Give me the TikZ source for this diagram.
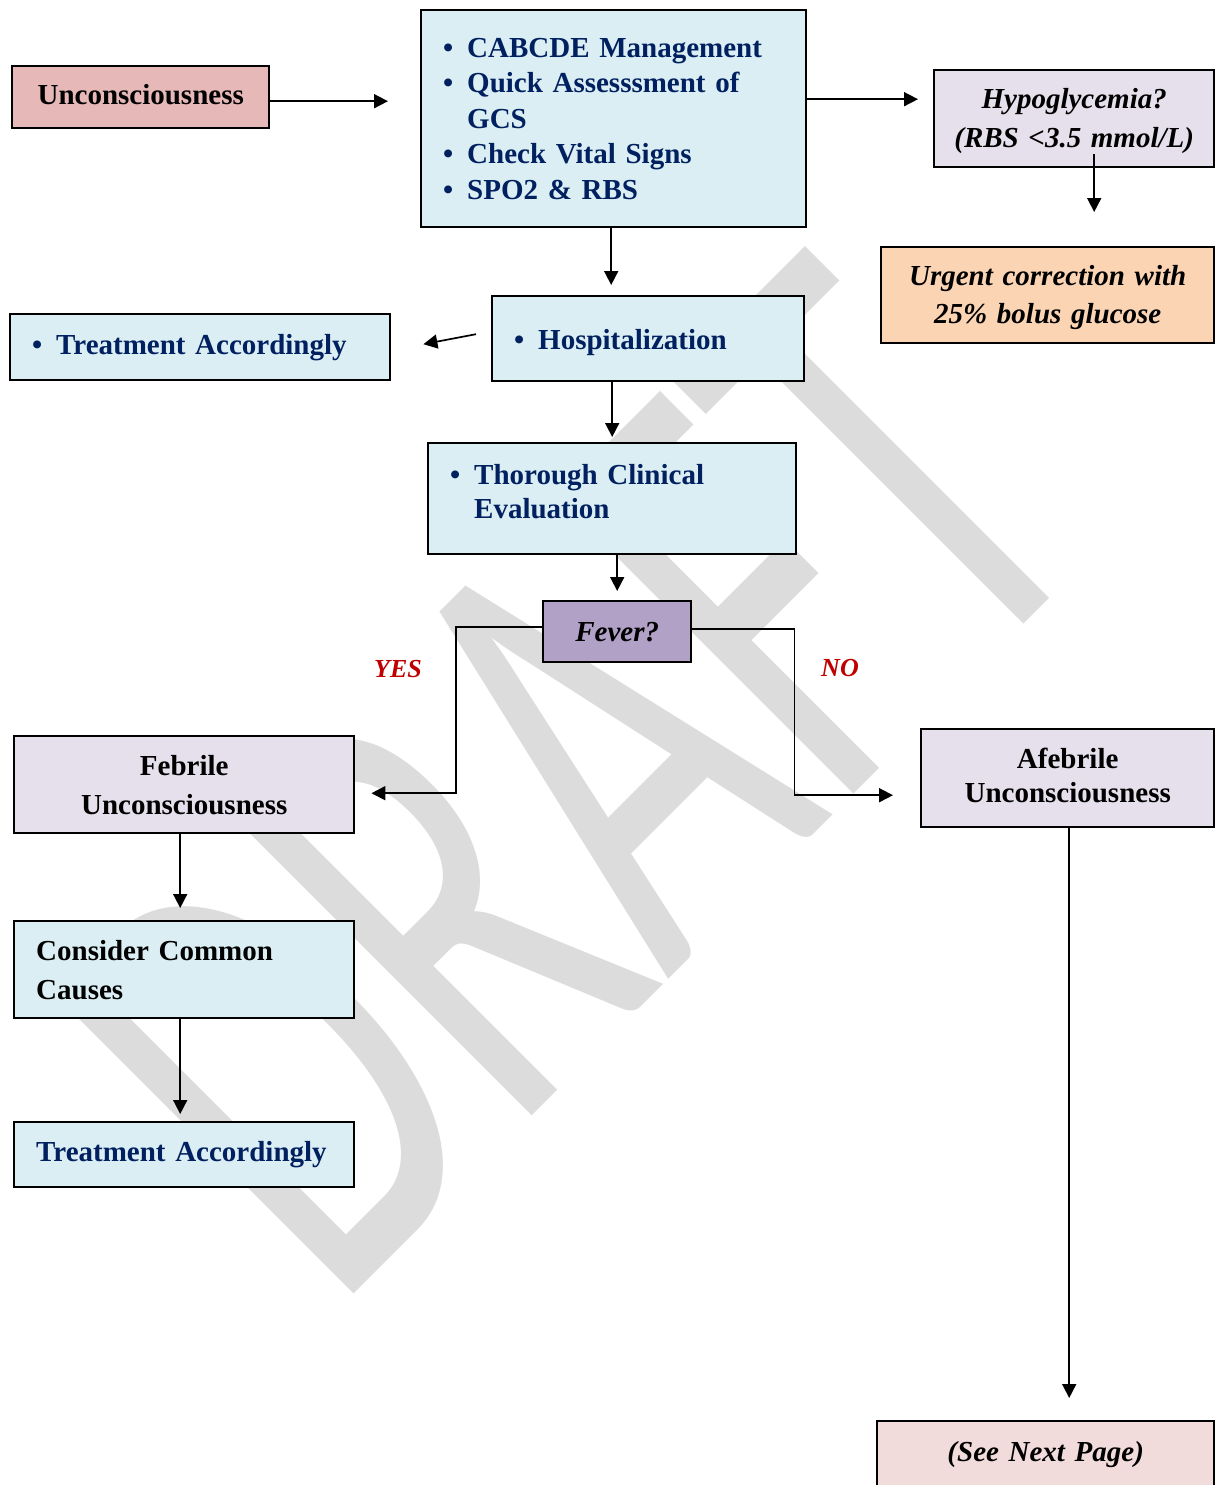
\documentclass[tikz,border=0pt]{standalone}
\usepackage{fontspec}
\setmainfont{Liberation Serif}
\newfontfamily\wmfont{Carlito}
\usetikzlibrary{arrows.meta,calc}

\definecolor{navy}{RGB}{0,32,96}
\definecolor{boxblue}{RGB}{219,238,243}
\definecolor{boxrose}{RGB}{230,184,183}
\definecolor{boxlav}{RGB}{229,224,236}
\definecolor{boxpeach}{RGB}{251,212,180}
\definecolor{boxpurple}{RGB}{178,161,199}
\definecolor{boxpink}{RGB}{242,220,219}
\definecolor{yesno}{RGB}{192,0,0}
\definecolor{wmgray}{RGB}{220,220,220}

\newcommand\itemdot{\makebox[24pt][l]{\textbullet}}

\tikzset{
  box/.style={draw=black, line width=2.4pt, rectangle, anchor=north west,
    inner ysep=0pt, font=\fontsize{29}{35.5}\selectfont\bfseries},
  listbox/.style={box, fill=boxblue, text=navy, align=left, inner xsep=22pt},
  ctrbox/.style={box, align=center, inner xsep=10pt},
  conn/.style={draw=black, line width=1.7pt, -{Triangle[length=14pt,width=14pt]}},
  lbl/.style={text=yesno, inner sep=0pt, font=\fontsize{26}{30}\selectfont\bfseries\itshape},
  wm/.style={text=wmgray, inner sep=0pt, font=\wmfont\fontsize{657}{657}\selectfont}
}

\begin{document}
\begin{tikzpicture}[x=1pt,y=-1pt]
\useasboundingbox (0,0) rectangle (1215,1485);
\fill[white] (0,0) rectangle (1215,1485);

% background watermark
\node[wm, rotate=45, xscale=0.62, anchor=base west] (wmark) at (334,1314) {DRAFT};

% boxes
\node[ctrbox, fill=boxrose, minimum height=62pt, text width=237pt] (unc) at (11,65)
  {Unconsciousness\rule[-6pt]{0pt}{0pt}};

\node[listbox, minimum height=217pt, text width=341pt] (assess) at (420,9)
  {\itemdot CABCDE Management\\
   \itemdot Quick Assesssment of\\
   \hspace*{24pt}GCS\\
   \itemdot Check Vital Signs\\
   \itemdot SPO2 \& RBS};

\node[ctrbox, fill=boxlav, minimum height=97pt, text width=260pt,
  font=\fontsize{29}{39}\selectfont\bfseries\itshape] (hypo) at (933,69)
  {\rule{0pt}{24pt}Hypoglycemia?\\(RBS <3.5 mmol/L)};

\node[ctrbox, fill=boxpeach, minimum height=96pt, text width=313pt,
  font=\fontsize{29}{38}\selectfont\bfseries\itshape] (urgent) at (880,246)
  {\rule{0pt}{24pt}Urgent correction with\\25\% bolus glucose};

\node[listbox, minimum height=66pt, text width=336pt] (treatA) at (9,313)
  {\itemdot Treatment Accordingly};

\node[listbox, minimum height=85pt, text width=268pt] (hosp) at (491,295)
  {\rule{0pt}{28pt}\itemdot Hospitalization};

\node[listbox, minimum height=111pt, text width=324pt,
  font=\fontsize{29}{34}\selectfont\bfseries] (thor) at (427,442)
  {\itemdot Thorough Clinical\\\hspace*{24pt}Evaluation\\[-20pt]\mbox{}};

\node[ctrbox, fill=boxpurple, minimum height=61pt, text width=128pt,
  font=\fontsize{29}{35}\selectfont\bfseries\itshape] (fever) at (542,600) {Fever?};

\node[ctrbox, fill=boxlav, minimum height=97pt, text width=320pt,
  font=\fontsize{29}{39}\selectfont\bfseries] (febrile) at (13,735)
  {Febrile\\Unconsciousness};

\node[ctrbox, fill=boxlav, minimum height=98pt, text width=273pt,
  font=\fontsize{29}{34}\selectfont\bfseries] (afebrile) at (920,728)
  {Afebrile\\Unconsciousness\rule[-6pt]{0pt}{0pt}};

\node[box, fill=boxblue, align=left, inner xsep=22pt, minimum height=97pt, text width=296pt,
  font=\fontsize{29}{39}\selectfont\bfseries] (causes) at (13,920)
  {Consider Common\\Causes};

\node[box, fill=boxblue, text=navy, align=left, inner xsep=22pt, minimum height=65pt,
  text width=296pt] (treatB) at (13,1121) {Treatment Accordingly};

\node[ctrbox, fill=boxpink, minimum height=67pt, text width=317pt,
  font=\fontsize{29}{35}\selectfont\bfseries\itshape] (nextpage) at (876,1420)
  {(See Next Page)};

% branch labels
\node[lbl] (yes) at (398,669) {YES};
\node[lbl] (no) at (840,668) {NO};

% connectors
\draw[conn, shorten >=32pt] ([yshift=-4pt]unc.east) -- ([yshift=-4pt]unc.east -| assess.west);
\draw[conn, shorten >=15pt] ([yshift=19.5pt]assess.east) -- ([yshift=19.5pt]assess.east -| hypo.west);
\draw[conn, shorten >=34pt] ([xshift=20pt,yshift=14pt]hypo.south) -- ([xshift=20pt]hypo.south |- urgent.north);
\draw[conn, shorten >=10pt] ([xshift=-2.5pt]assess.south) -- ([xshift=-2.5pt]assess.south |- hosp.north);
\draw[conn] ([shift={(-15pt,4.5pt)}]hosp.west) -- ([shift={(32pt,3pt)}]treatA.east);
\draw[conn, shorten >=5pt] (hosp.south -| thor.north) -- (thor.north);
\draw[conn, shorten >=9pt] (thor.south -| fever.north) -- (fever.north);
\draw[conn, shorten >=16pt] ([yshift=4.5pt]fever.west) -- ++(-86,0) |- ([yshift=-8.5pt]febrile.east);
\draw[conn, shorten >=27pt] ([yshift=2.5pt]fever.east) -- ++(102,0) |- ([yshift=-17pt]afebrile.west);
\draw[conn, shorten >=12pt] ([xshift=-4pt]febrile.south) -- ([xshift=-4pt]febrile.south |- causes.north);
\draw[conn, shorten >=7pt] ([xshift=-4pt]causes.south) -- ([xshift=-4pt]causes.south |- treatB.north);
\draw[conn, shorten >=22pt] ([xshift=1.5pt]afebrile.south) -- ([xshift=1.5pt]afebrile.south |- nextpage.north);
\end{tikzpicture}
\end{document}
